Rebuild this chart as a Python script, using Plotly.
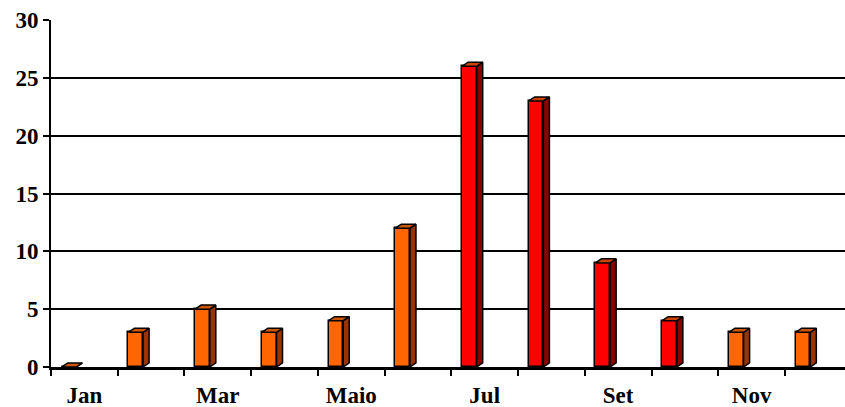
import plotly.graph_objects as go

# ---- data ----
months = ["Jan", "Fev", "Mar", "Abr", "Maio", "Jun", "Jul", "Ago", "Set", "Out", "Nov", "Dez"]
values = [0, 3, 5, 3, 4, 12, 26, 23, 9, 4, 3, 3]
shown_labels = ["Jan", "Mar", "Maio", "Jul", "Set", "Nov"]
color_group = ["orange", "orange", "orange", "orange", "orange", "orange",
               "red", "red", "red", "red", "orange", "orange"]
y_ticks = [0, 5, 10, 15, 20, 25, 30]

# ---- style ----
palette = {
    "orange": {"face": "#FF6600", "side": "#993300", "top": "#CC5500"},
    "red": {"face": "#FF0000", "side": "#8B0000", "top": "#CC4400"},
}
bar_offset = -0.23   # bars sit left of the category centre (3D perspective)
bar_width = 0.22
depth_x = 0.09
depth_y = 0.35
FONT = "Liberation Serif"

idx = list(range(len(months)))
bar_x = [i + bar_offset for i in idx]

fig = go.Figure()

# front faces
fig.add_trace(go.Bar(
    x=bar_x, y=values, width=bar_width,
    marker=dict(color=[palette[g]["face"] for g in color_group],
                line=dict(color="black", width=1.5)),
    hoverinfo="skip", showlegend=False,
))

# side and top faces, built from the same values
for g in palette:
    sx, sy, tx, ty = [], [], [], []
    for xc, v, grp in zip(bar_x, values, color_group):
        if grp != g:
            continue
        xl = xc - bar_width / 2
        xr = xc + bar_width / 2
        sx += [xr, xr + depth_x, xr + depth_x, xr, xr, None]
        sy += [0, depth_y, v + depth_y, v, 0, None]
        tx += [xl, xl + depth_x, xr + depth_x, xr, xl, None]
        ty += [v, v + depth_y, v + depth_y, v, v, None]
    fig.add_trace(go.Scatter(x=sx, y=sy, mode="lines", fill="toself",
                             fillcolor=palette[g]["side"],
                             line=dict(color="black", width=1.5),
                             hoverinfo="skip", showlegend=False))
    fig.add_trace(go.Scatter(x=tx, y=ty, mode="lines", fill="toself",
                             fillcolor=palette[g]["top"],
                             line=dict(color="black", width=1.5),
                             hoverinfo="skip", showlegend=False))

label_vals = [months.index(m) for m in shown_labels]
boundaries = [i - 0.5 for i in idx]

fig.update_layout(
    width=845, height=407,
    margin=dict(l=51, r=0, t=20, b=40),
    paper_bgcolor="white", plot_bgcolor="white",
    bargap=0,
    xaxis=dict(
        range=[-0.5, 11.4], automargin=False,
        tickmode="array", tickvals=label_vals, ticktext=shown_labels,
        ticks="", showgrid=False, zeroline=False,
        showline=True, linecolor="black", linewidth=3,
        tickfont=dict(family=FONT, size=23, color="black", weight="bold"),
        ticklabelstandoff=5,
        minor=dict(tickmode="array", tickvals=boundaries, ticks="outside",
                   ticklen=6, tickwidth=2, tickcolor="black", showgrid=False),
    ),
    yaxis=dict(
        range=[0, 30], tickmode="array", tickvals=y_ticks, automargin=False,
        ticks="outside", ticklen=6, tickwidth=2, tickcolor="black",
        showgrid=True, gridcolor="black", gridwidth=2,
        zeroline=False, showline=True, linecolor="black", linewidth=2,
        tickfont=dict(family=FONT, size=23, color="black", weight="bold"),
    ),
)

fig.write_html("out.html", config={"displayModeBar": False},
               post_script="document.body.style.margin='0';document.body.style.overflow='hidden';")
